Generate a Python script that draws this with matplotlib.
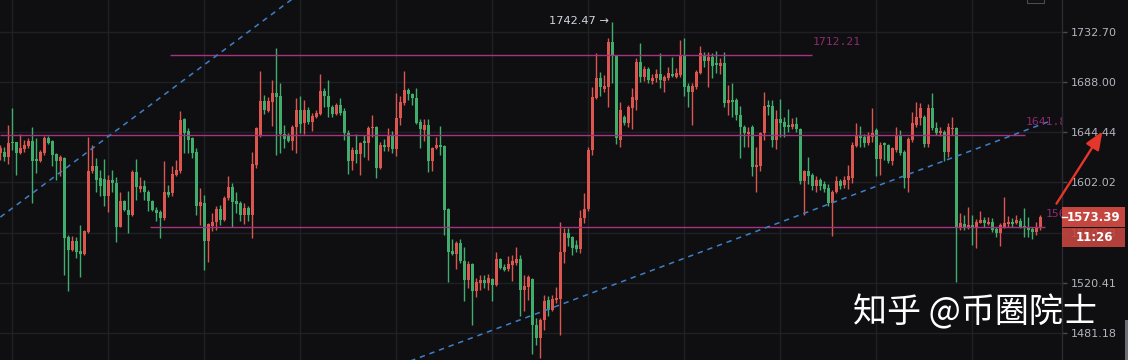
import numpy as np
import matplotlib
matplotlib.use('Agg')
import matplotlib.pyplot as plt
import matplotlib.transforms as mtransforms
from matplotlib.patches import Rectangle, FancyArrowPatch
from matplotlib.lines import Line2D
from matplotlib.ticker import FixedLocator, FixedFormatter, NullLocator

# ---------------- data ----------------
opens = [
 1626.8, 1628.1, 1623.9, 1636.5, 1636.0, 1626.8, 1630.4, 1632.9, 1637.3, 1622.0,
 1620.3, 1626.8, 1639.9, 1637.1, 1625.9, 1620.3, 1622.6, 1557.3, 1546.6, 1553.9,
 1545.8, 1543.2, 1561.4, 1611.3, 1615.5, 1605.8, 1604.9, 1590.4, 1604.3, 1601.5,
 1565.5, 1586.2, 1579.4, 1575.2, 1610.5, 1596.8, 1599.3, 1593.7, 1586.8, 1579.4,
 1577.7, 1572.5, 1594.5, 1593.2, 1608.5, 1611.3, 1655.7, 1645.5, 1639.4, 1628.1,
 1582.1, 1584.9, 1554.1, 1566.1, 1569.7, 1579.9, 1571.1, 1589.1, 1598.2, 1586.2,
 1584.9, 1575.2, 1580.8, 1575.2, 1616.9, 1641.3, 1672.0, 1663.2, 1671.1, 1678.9,
 1676.1, 1643.0, 1641.3, 1637.3, 1648.8, 1663.8, 1652.2, 1663.8, 1653.6, 1658.0,
 1660.4, 1680.4, 1676.1, 1666.7, 1660.4, 1668.2, 1663.2, 1644.1, 1619.7, 1629.5,
 1626.2, 1637.3, 1635.2, 1647.9, 1649.3, 1614.2, 1633.7, 1631.8, 1641.3, 1630.1,
 1656.6, 1669.7, 1681.3, 1677.8, 1674.0, 1653.6, 1646.4, 1650.8, 1619.7, 1631.0,
 1633.7, 1632.9, 1579.9, 1546.1, 1543.4, 1552.5, 1537.8, 1522.6, 1535.4, 1513.4,
 1520.4, 1522.6, 1520.4, 1523.1, 1518.6, 1539.2, 1532.8, 1531.1, 1534.6, 1536.0,
 1539.2, 1514.7, 1517.3, 1523.1, 1487.4, 1477.0, 1491.3, 1506.4, 1499.1, 1506.9,
 1507.5, 1545.3, 1560.5, 1556.8, 1550.7, 1547.2, 1572.5, 1579.9, 1629.5, 1674.0,
 1691.6, 1681.9, 1683.6, 1724.1, 1711.4, 1637.9, 1657.5, 1652.2, 1665.3, 1672.6,
 1706.3, 1693.0, 1699.6, 1689.4, 1691.6, 1695.4, 1689.4, 1691.6, 1695.4, 1693.0,
 1694.5, 1711.4, 1684.8, 1679.8, 1684.2, 1696.0, 1712.3, 1707.2, 1710.8, 1704.9,
 1702.5, 1704.9, 1669.7, 1672.6, 1672.6, 1659.5, 1649.3, 1643.0, 1649.3, 1615.0,
 1615.5, 1643.6, 1668.2, 1667.3, 1637.9, 1655.7, 1653.6, 1650.8, 1648.8, 1651.6,
 1647.0, 1602.9, 1611.3, 1608.5, 1598.7, 1604.3, 1600.9, 1597.4, 1584.9, 1594.5,
 1602.9, 1600.1, 1603.8, 1605.8, 1632.9, 1641.3, 1640.7, 1635.7, 1640.7, 1646.4,
 1621.7, 1635.7, 1633.7, 1619.7, 1629.5, 1641.3, 1628.1, 1605.8, 1637.9, 1650.8,
 1656.6, 1657.5, 1634.6, 1665.3, 1647.9, 1643.6, 1645.0, 1628.1, 1647.0, 1647.9,
 1565.5, 1567.8, 1565.0, 1566.9, 1565.0, 1568.8, 1571.1, 1567.8, 1569.7, 1563.4,
 1560.1, 1565.5, 1567.8, 1569.7, 1568.8, 1570.5, 1566.1, 1565.5, 1563.4, 1561.4,
 1564.2]
highs = [
 1633.7, 1631.8, 1650.8, 1665.3, 1636.5, 1643.0, 1637.9, 1639.4, 1649.3, 1639.4,
 1629.5, 1641.3, 1641.3, 1637.9, 1626.8, 1625.3, 1623.9, 1558.7, 1557.9, 1557.3,
 1566.9, 1562.8, 1640.7, 1633.7, 1622.6, 1612.7, 1621.7, 1608.5, 1612.7, 1606.6,
 1594.5, 1587.7, 1595.1, 1612.7, 1621.7, 1606.6, 1604.3, 1595.9, 1587.7, 1581.6,
 1578.8, 1619.7, 1600.1, 1615.5, 1621.1, 1663.0, 1656.6, 1647.9, 1640.7, 1631.0,
 1597.4, 1591.8, 1568.8, 1576.6, 1582.7, 1583.5, 1590.4, 1607.1, 1601.5, 1593.7,
 1586.2, 1584.9, 1582.7, 1628.1, 1648.8, 1698.3, 1676.9, 1675.4, 1690.0, 1718.5,
 1687.7, 1650.8, 1644.1, 1650.8, 1674.0, 1676.1, 1672.6, 1666.2, 1661.0, 1663.8,
 1695.4, 1682.8, 1690.0, 1668.2, 1669.7, 1674.0, 1665.3, 1646.4, 1632.3, 1643.0,
 1636.5, 1642.1, 1649.9, 1659.5, 1649.9, 1636.5, 1638.5, 1647.9, 1645.8, 1678.4,
 1676.1, 1698.3, 1682.8, 1678.9, 1682.8, 1655.7, 1655.7, 1655.7, 1632.3, 1640.2,
 1649.9, 1633.7, 1580.8, 1555.2, 1553.9, 1555.2, 1548.8, 1537.3, 1536.4, 1523.9,
 1526.6, 1526.6, 1527.4, 1523.9, 1545.3, 1540.0, 1535.4, 1541.3, 1542.6, 1548.8,
 1542.6, 1526.6, 1526.6, 1523.9, 1492.6, 1492.6, 1510.8, 1509.5, 1510.8, 1517.3,
 1569.7, 1564.2, 1564.2, 1557.9, 1554.7, 1579.4, 1593.2, 1631.8, 1683.6, 1714.3,
 1697.4, 1694.5, 1727.2, 1742.47, 1712.3, 1671.1, 1659.5, 1668.2, 1682.8, 1709.4,
 1722.7, 1702.5, 1701.9, 1695.4, 1699.6, 1714.3, 1694.5, 1701.4, 1710.8, 1700.5,
 1725.6, 1727.2, 1687.1, 1687.1, 1698.9, 1720.3, 1715.2, 1715.2, 1714.3, 1716.1,
 1709.4, 1715.2, 1685.6, 1687.7, 1674.0, 1667.3, 1650.8, 1649.3, 1650.8, 1632.3,
 1644.9, 1679.8, 1672.6, 1672.6, 1663.8, 1673.2, 1657.5, 1664.5, 1656.6, 1657.5,
 1647.9, 1612.7, 1623.4, 1610.0, 1607.1, 1605.8, 1602.9, 1600.9, 1595.9, 1607.1,
 1605.0, 1607.7, 1616.9, 1636.5, 1652.2, 1649.9, 1643.0, 1644.9, 1665.3, 1647.9,
 1636.5, 1636.5, 1634.6, 1632.3, 1649.3, 1646.4, 1629.5, 1640.7, 1662.4, 1671.1,
 1669.7, 1659.5, 1669.1, 1678.4, 1653.6, 1649.3, 1646.4, 1652.8, 1658.0, 1649.3,
 1576.6, 1575.2, 1581.6, 1575.2, 1571.7, 1578.0, 1573.8, 1573.8, 1572.5, 1565.5,
 1568.3, 1589.9, 1574.4, 1572.8, 1575.2, 1572.5, 1580.8, 1573.8, 1565.5, 1569.7,
 1575.2]
lows = [
 1621.1, 1619.7, 1617.8, 1629.5, 1608.5, 1626.2, 1628.1, 1631.0, 1584.9, 1610.0,
 1618.9, 1625.3, 1634.3, 1615.5, 1604.3, 1607.1, 1526.6, 1513.4, 1546.1, 1540.0,
 1525.2, 1542.1, 1560.1, 1610.0, 1594.5, 1591.0, 1582.7, 1577.5, 1594.5, 1553.3,
 1565.0, 1578.0, 1560.1, 1574.4, 1587.7, 1594.5, 1587.7, 1578.0, 1578.0, 1570.2,
 1556.0, 1571.1, 1589.9, 1590.4, 1607.1, 1610.0, 1626.8, 1626.8, 1622.6, 1575.2,
 1566.9, 1530.6, 1536.8, 1562.2, 1562.8, 1566.9, 1570.5, 1587.7, 1565.5, 1576.6,
 1570.5, 1567.8, 1570.5, 1556.0, 1614.2, 1640.2, 1660.4, 1662.4, 1649.9, 1625.3,
 1626.8, 1631.0, 1636.5, 1629.5, 1626.8, 1644.1, 1643.0, 1651.6, 1645.8, 1656.6,
 1659.5, 1666.7, 1658.0, 1658.0, 1659.5, 1659.5, 1637.9, 1609.4, 1612.7, 1618.4,
 1608.5, 1623.4, 1621.1, 1640.7, 1605.8, 1613.3, 1628.9, 1628.9, 1627.3, 1624.5,
 1650.8, 1668.2, 1672.6, 1668.2, 1651.6, 1631.0, 1637.3, 1610.5, 1611.3, 1630.1,
 1625.3, 1558.7, 1521.2, 1542.6, 1531.1, 1536.0, 1505.6, 1516.0, 1487.4, 1509.0,
 1514.7, 1516.0, 1514.7, 1505.6, 1517.8, 1531.1, 1530.0, 1530.0, 1522.0, 1534.6,
 1493.9, 1497.8, 1506.9, 1464.5, 1471.8, 1461.8, 1483.5, 1493.9, 1497.8, 1504.3,
 1479.4, 1536.0, 1549.9, 1542.6, 1545.3, 1544.5, 1568.3, 1578.0, 1625.3, 1673.2,
 1676.1, 1679.8, 1666.2, 1687.6, 1634.6, 1631.8, 1650.8, 1648.8, 1647.0, 1663.8,
 1688.5, 1689.4, 1687.1, 1686.5, 1688.5, 1682.8, 1679.8, 1690.0, 1693.0, 1691.6,
 1693.0, 1676.1, 1666.7, 1650.8, 1681.9, 1695.4, 1701.9, 1684.2, 1691.6, 1696.5,
 1695.4, 1666.2, 1659.5, 1658.0, 1655.1, 1622.6, 1632.3, 1632.3, 1607.1, 1594.5,
 1611.3, 1637.9, 1659.5, 1632.3, 1630.1, 1640.7, 1640.7, 1645.0, 1647.0, 1645.0,
 1600.9, 1575.2, 1600.9, 1596.0, 1594.5, 1596.0, 1594.5, 1582.1, 1557.9, 1593.2,
 1596.5, 1597.4, 1596.5, 1601.5, 1631.8, 1632.3, 1631.8, 1633.7, 1636.5, 1607.1,
 1608.5, 1621.1, 1618.4, 1617.0, 1628.1, 1625.3, 1597.4, 1594.5, 1636.5, 1649.3,
 1650.8, 1632.3, 1632.3, 1646.4, 1642.1, 1641.3, 1619.7, 1623.9, 1642.1, 1521.2,
 1562.8, 1562.8, 1563.4, 1550.7, 1548.0, 1568.3, 1565.5, 1566.9, 1561.4, 1557.3,
 1549.9, 1564.2, 1565.5, 1565.5, 1567.8, 1564.2, 1556.8, 1557.3, 1555.2, 1558.7,
 1562.8]
closes = [
 1631.0, 1623.9, 1635.7, 1635.2, 1627.3, 1631.5, 1633.7, 1637.3, 1620.5, 1620.5,
 1627.6, 1639.9, 1635.7, 1625.3, 1619.7, 1623.1, 1556.0, 1546.6, 1554.1, 1545.3,
 1543.4, 1562.2, 1611.9, 1615.5, 1604.3, 1598.7, 1590.4, 1604.3, 1601.5, 1565.5,
 1586.2, 1579.4, 1575.2, 1610.5, 1598.2, 1598.7, 1593.7, 1586.2, 1578.8, 1577.1,
 1572.5, 1594.5, 1591.8, 1609.4, 1612.1, 1655.1, 1643.6, 1637.9, 1627.3, 1582.1,
 1585.4, 1554.1, 1567.8, 1569.7, 1579.9, 1571.1, 1589.1, 1598.2, 1585.4, 1584.3,
 1575.2, 1580.8, 1575.2, 1617.8, 1647.9, 1672.0, 1663.8, 1672.0, 1678.9, 1675.4,
 1643.0, 1638.5, 1637.3, 1648.8, 1663.8, 1651.6, 1663.8, 1653.6, 1658.6, 1661.5,
 1680.4, 1676.1, 1666.2, 1660.4, 1668.2, 1661.5, 1644.1, 1619.7, 1629.5, 1626.2,
 1635.7, 1635.2, 1648.4, 1649.3, 1614.2, 1633.7, 1631.8, 1641.3, 1630.1, 1656.6,
 1671.1, 1681.3, 1677.5, 1674.0, 1652.8, 1647.0, 1650.8, 1619.7, 1631.0, 1633.7,
 1631.8, 1579.4, 1545.3, 1543.4, 1552.5, 1537.3, 1522.6, 1535.4, 1513.4, 1521.2,
 1522.6, 1520.4, 1523.9, 1518.6, 1539.2, 1532.0, 1530.6, 1535.4, 1537.3, 1539.2,
 1514.7, 1517.8, 1524.7, 1487.4, 1477.0, 1491.3, 1505.6, 1499.1, 1507.5, 1508.2,
 1545.3, 1560.5, 1556.0, 1548.0, 1547.2, 1572.5, 1579.9, 1629.5, 1674.9, 1691.6,
 1683.6, 1684.8, 1724.1, 1711.4, 1639.4, 1663.8, 1652.2, 1666.2, 1674.9, 1706.3,
 1693.0, 1699.6, 1690.0, 1692.1, 1695.4, 1690.0, 1693.0, 1696.0, 1693.6, 1696.0,
 1711.4, 1684.2, 1679.8, 1684.8, 1697.4, 1714.3, 1707.2, 1710.8, 1702.5, 1703.4,
 1704.9, 1669.7, 1672.6, 1671.1, 1659.5, 1648.8, 1643.6, 1645.0, 1615.0, 1617.0,
 1644.1, 1667.3, 1666.7, 1637.9, 1655.7, 1652.8, 1649.3, 1648.8, 1651.6, 1647.0,
 1602.9, 1611.3, 1607.1, 1598.7, 1604.3, 1598.7, 1596.5, 1584.9, 1594.5, 1602.9,
 1599.3, 1604.3, 1607.1, 1633.7, 1641.3, 1639.4, 1635.2, 1641.3, 1643.6, 1621.7,
 1633.7, 1633.7, 1619.7, 1631.0, 1641.3, 1626.8, 1605.8, 1638.5, 1652.2, 1657.5,
 1665.3, 1634.6, 1665.3, 1647.9, 1643.6, 1645.8, 1628.1, 1649.3, 1648.4, 1565.5,
 1568.3, 1565.5, 1566.9, 1565.0, 1569.7, 1571.1, 1568.8, 1569.7, 1562.8, 1560.1,
 1566.9, 1568.8, 1569.7, 1567.8, 1571.1, 1565.5, 1564.2, 1562.8, 1561.4, 1564.2,
 1573.39]

y_ticks = [1732.70, 1688.00, 1644.44, 1602.02, 1560.68, 1520.41, 1481.18]
y_tick_labels = ["1732.70", "1688.00", "1644.44", "1602.02", "1560.68", "1520.41", "1481.18"]

level_prices = [1712.21, 1641.85, 1565.02]
level_labels = ["1712.21", "1641.85", "1565.02"]
level_starts = [42.4, -0.1, 37.4]
level_ends = [202.9, 256.2, 261.1]

trend1_x = [0, 80]
trend1_y = [1573.3, 1782.5]
trend2_x = [100, 263]
trend2_y = [1456.6, 1654.9]

high_index = 153
high_label = "1742.47 →"
last_price_label = "1573.39"
countdown_label = "11:26"
watermark = "知乎 @币圈院士"

# ---------------- style ----------------
W, H = 1128, 360
BG = '#0f0f12'
GRID = '#1f2025'
UP = '#da564e'
DOWN = '#40ad6d'
LEVEL = '#a8327f'
LEVEL_TXT = '#8c2c70'
TREND = '#3f7fc6'
AXTXT = '#b2b5be'
AX_RIGHT_PX = 1062

fig = plt.figure(figsize=(W / 100, H / 100), dpi=100)
fig.patch.set_facecolor(BG)
ax = fig.add_axes([0, 0, AX_RIGHT_PX / W, 1])
ax.set_facecolor(BG)
ax.set_yscale('log')
ax.set_xlim(-0.075, (AX_RIGHT_PX - 0.3) / 4)
ax.set_ylim(1460.2, 1762.2)

o = np.array(opens); h = np.array(highs); l = np.array(lows); c = np.array(closes)
x = np.arange(len(o))
up = c >= o
cols = np.where(up, UP, DOWN)

# grid
ax.yaxis.set_major_locator(FixedLocator(y_ticks))
ax.yaxis.set_major_formatter(FixedFormatter(y_tick_labels))
ax.yaxis.set_minor_locator(NullLocator())
ax.xaxis.set_major_locator(FixedLocator(np.arange(2.925, 266, 24)))
ax.xaxis.set_major_formatter(FixedFormatter([]))
ax.xaxis.set_minor_locator(NullLocator())
ax.grid(True, color=GRID, linewidth=1.0, zorder=0)
ax.set_axisbelow(True)
ax.yaxis.tick_right()
ax.tick_params(axis='y', colors='#4a4b52', labelcolor=AXTXT, labelsize=8,
               length=3.6, width=1, pad=3)
ax.tick_params(axis='x', length=0)
for s in ['left', 'top', 'bottom']:
    ax.spines[s].set_visible(False)
ax.spines['right'].set_color('#2a2b31')
ax.spines['right'].set_linewidth(1)

# candles
ax.vlines(x, l, h, colors=cols, linewidth=1.0, zorder=3)
bottoms = np.minimum(o, c)
heights = np.maximum(np.abs(c - o), 0.9)
ax.bar(x, heights, bottom=bottoms, width=0.8, color=cols, linewidth=0, zorder=4)

# levels
ax.hlines(level_prices, level_starts, level_ends, colors=LEVEL, linewidth=1.0, zorder=5)
for p, lab, e in zip(level_prices, level_labels, level_ends):
    tr = ax.transData + mtransforms.ScaledTranslation(0.005, 0.085, fig.dpi_scale_trans)
    ax.text(e, p, lab, transform=tr, ha='left', va='bottom', color=LEVEL_TXT,
            fontsize=8.2, family='DejaVu Sans Mono', clip_on=True, zorder=6)

# trend lines
for tx, ty in [(trend1_x, trend1_y), (trend2_x, trend2_y)]:
    ax.plot(tx, ty, color=TREND, linewidth=1.1, linestyle=(0, (3.5, 3.2)), zorder=5)

# high label
tr = ax.transData + mtransforms.ScaledTranslation(-0.03, 0.01, fig.dpi_scale_trans)
ax.text(high_index, highs[high_index], high_label, transform=tr, ha='right', va='center',
        color='#d1d4dc', fontsize=8.2, zorder=6)

# last price boxes
yp = ax.transData.transform((0, closes[-1]))[1]
BOX = '#c4463f'
fig.patches.append(Rectangle((AX_RIGHT_PX / W, (yp - 10) / H), 63 / W, 20 / H,
                             transform=fig.transFigure, facecolor=BOX, edgecolor='none', zorder=5))
fig.patches.append(Rectangle((AX_RIGHT_PX / W, (yp - 30) / H), 63 / W, 19 / H,
                             transform=fig.transFigure, facecolor=BOX, edgecolor='none',
                             alpha=0.9, zorder=5))
fig.lines.append(Line2D([AX_RIGHT_PX / W, (AX_RIGHT_PX + 5) / W], [yp / H, yp / H],
                        transform=fig.transFigure, color='white', linewidth=1, zorder=6))
fig.text((AX_RIGHT_PX + 32) / W, yp / H, last_price_label, ha='center', va='center',
         color='white', fontsize=8.5, fontweight='bold', zorder=7)
fig.text((AX_RIGHT_PX + 32) / W, (yp - 20.5) / H, countdown_label, ha='center', va='center',
         color='white', fontsize=8.5, fontweight='bold', zorder=7)

# UI bits
fig.patches.append(Rectangle((1027 / W, 1 - 3 / H), 17 / W, 4 / H, transform=fig.transFigure,
                             facecolor='none', edgecolor='#4a4b52', linewidth=0.8, zorder=5))
fig.patches.append(Rectangle((1125 / W, 0), 3 / W, 40 / H, transform=fig.transFigure,
                             facecolor='#6b6d75', edgecolor='none', zorder=5))

# red arrow
arrow = FancyArrowPatch((1055 / W, 1 - 206 / H), (1104 / W, 1 - 129 / H),
                        transform=fig.transFigure,
                        arrowstyle='-|>,head_length=1.1,head_width=0.45',
                        mutation_scale=10, color='#e5362b', linewidth=1.7, zorder=8)
fig.patches.append(arrow)

# watermark
fig.text(853 / W, 1 - 313 / H, watermark, color='white', fontsize=24.5,
         family=['Noto Sans CJK SC', 'DejaVu Sans'], ha='left', va='center', zorder=9)

fig.savefig('out.png', dpi=100, facecolor=BG)
